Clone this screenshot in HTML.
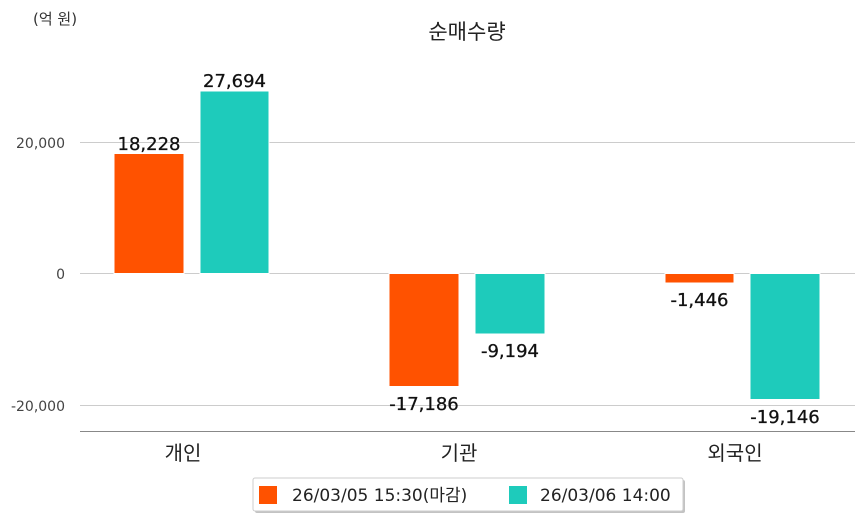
<!DOCTYPE html>
<html><head><meta charset="utf-8"><style>
body{margin:0;background:#fff}
svg{display:block;font-family:"DejaVu Sans","Noto Sans CJK KR",sans-serif}
</style></head><body>
<svg width="863" height="520" viewBox="0 0 863 520">
<text x="33" y="24" font-size="15" fill="#333">(억 원)</text>
<text x="467" y="39" font-size="21" fill="#222" text-anchor="middle">순매수량</text>
<g stroke="#ccc" stroke-width="1">
<line x1="80" y1="142.5" x2="855" y2="142.5"/>
<line x1="80" y1="273.5" x2="855" y2="273.5"/>
<line x1="80" y1="405.5" x2="855" y2="405.5"/>
</g>
<line x1="80" y1="431.5" x2="855" y2="431.5" stroke="#888" stroke-width="1"/>
<g font-size="14" fill="#444" text-anchor="end">
<text x="65" y="148">20,000</text>
<text x="65" y="279">0</text>
<text x="65" y="411">-20,000</text>
</g>
<g stroke="#fff" stroke-width="1">
<rect x="114" y="153.5" width="70" height="120" fill="#ff5200"/>
<rect x="200" y="91" width="69" height="182.5" fill="#1ecbbb"/>
<rect x="389" y="273.5" width="70" height="113" fill="#ff5200"/>
<rect x="475" y="273.5" width="70" height="60.5" fill="#1ecbbb"/>
<rect x="665" y="273.5" width="69" height="9.5" fill="#ff5200"/>
<rect x="750" y="273.5" width="70" height="126" fill="#1ecbbb"/>
</g>
<g font-size="18" fill="#111" text-anchor="middle" stroke="#111" stroke-width="0.3">
<text x="149" y="150">18,228</text>
<text x="234.5" y="87">27,694</text>
<text x="424" y="410">-17,186</text>
<text x="510" y="357">-9,194</text>
<text x="699.5" y="306">-1,446</text>
<text x="785" y="423">-19,146</text>
</g>
<g font-size="20" fill="#222" text-anchor="middle">
<text x="183" y="460">개인</text>
<text x="459" y="460">기관</text>
<text x="735" y="460">외국인</text>
</g>
<rect x="255" y="480" width="430" height="33" fill="#888" opacity="0.5" rx="2"/>
<rect x="253" y="478" width="430" height="33" fill="#fff" stroke="#ccc" rx="2"/>
<rect x="259" y="486" width="18" height="18" fill="#ff5200"/>
<text x="292" y="501" font-size="17" fill="#222">26/03/05 15:30(마감)</text>
<rect x="509" y="486" width="18" height="18" fill="#1ecbbb"/>
<text x="540" y="501" font-size="17" fill="#222">26/03/06 14:00</text>
</svg>
</body></html>
